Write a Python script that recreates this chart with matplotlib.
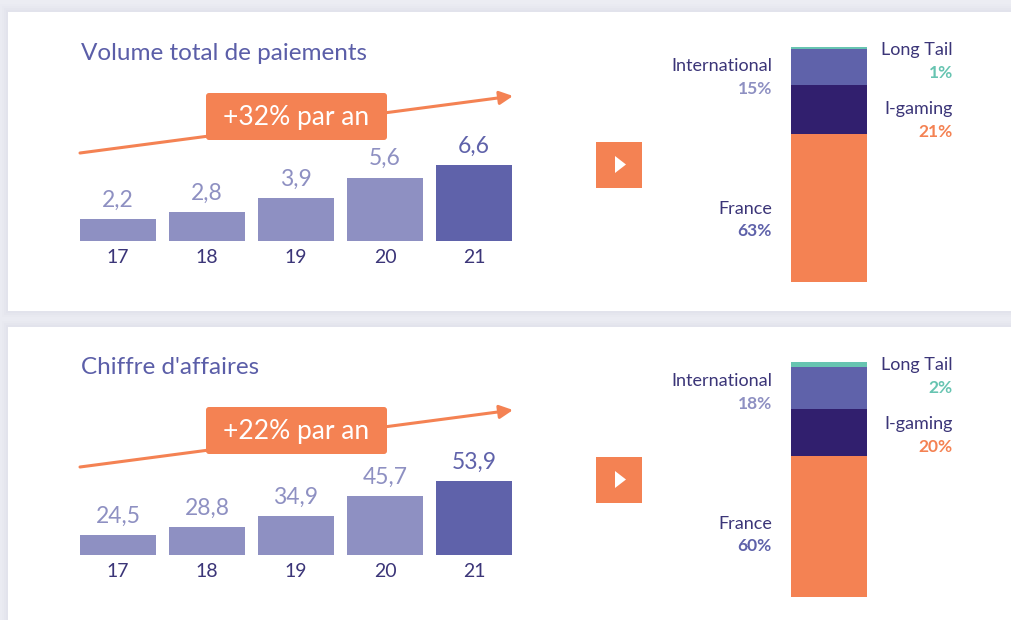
import matplotlib
matplotlib.use("Agg")
import matplotlib.pyplot as plt
from matplotlib.patches import Rectangle, FancyBboxPatch, Polygon

plt.rcParams["font.family"] = ["Lato", "DejaVu Sans"]

W, H = 1012, 620

# ---- data ----
years = ["17", "18", "19", "20", "21"]

volume_title = "Volume total de paiements"
volume_values = [2.2, 2.8, 3.9, 5.6, 6.6]
volume_growth = "+32% par an"

ca_title = "Chiffre d'affaires"
ca_values = [24.5, 28.8, 34.9, 45.7, 53.9]
ca_growth = "+22% par an"

segments = ["France", "I-gaming", "International", "Long Tail"]
volume_split = [63, 21, 15, 1]
ca_split = [60, 20, 18, 2]

# ---- colours ----
BG = "#ecedf3"
ORANGE = "#f48253"
LIGHT = "#8e90c2"
MID = "#5f62aa"
NAVY = "#311f6e"
TEAL = "#67c4b1"
DARK_TXT = "#3b3578"
TITLE = "#5b5ea8"

seg_colors = [ORANGE, NAVY, MID, TEAL]
pct_colors = [MID, ORANGE, LIGHT, TEAL]
# label side and vertical place (axes fraction) for name / percentage
seg_side = ["left", "right", "left", "right"]
seg_name_y = [0.311, 0.736, 0.919, 0.987]
seg_pct_y = [0.217, 0.638, 0.821, 0.889]


fig = plt.figure(figsize=(W / 100, H / 100), dpi=100)
fig.patch.set_facecolor(BG)

bg = fig.add_axes([0, 0, 1, 1])
bg.set_xlim(0, W)
bg.set_ylim(H, 0)
bg.axis("off")
bg.set_zorder(0)


def px_axes(x, y, w, h):
    ax = fig.add_axes([x / W, 1 - (y + h) / H, w / W, h / H])
    ax.patch.set_alpha(0)
    ax.set_zorder(2)
    return ax


def card(y0, y1):
    # soft shadow then the white card
    for i, a in enumerate([0.02, 0.025, 0.03, 0.035]):
        d = 8 - 2 * i
        bg.add_patch(Rectangle((8 - d, y0 - d), W + 20, (y1 - y0) + 2 * d,
                               facecolor="#9a9cc0", edgecolor="none", alpha=a))
    bg.add_patch(Rectangle((8, y0), W + 20, y1 - y0, facecolor="white",
                           edgecolor="none"))


def bar_panel(top, title, values, growth, ymin, yscale):
    bg.text(81, top + 41, title, color=TITLE, fontsize=17.5,
            va="center", ha="left")

    # growth arrow and label box
    bg.annotate("", xy=(513, top + 84), xytext=(80, top + 141),
                arrowprops=dict(arrowstyle="-|>,head_length=1.0,head_width=0.5",
                                mutation_scale=8, color=ORANGE, lw=2.2,
                                shrinkA=0, shrinkB=0))
    bg.add_patch(FancyBboxPatch((206, top + 81), 181, 47,
                                boxstyle="round,pad=0,rounding_size=3",
                                facecolor=ORANGE, edgecolor="none", zorder=3))
    bg.text(296.5, top + 105, growth, color="white", fontsize=19,
            ha="center", va="center", zorder=4)

    ax = px_axes(80, top + 129, 432, 100)
    x = range(len(values))
    colors = [LIGHT] * (len(values) - 1) + [MID]
    ax.bar(x, values, width=0.854, color=colors)
    ax.set_xlim(-0.427, len(values) - 1 + 0.427)
    ax.set_ylim(ymin, ymin + 100 / yscale)
    for i, v in enumerate(values):
        ax.annotate(f"{v:.1f}".replace(".", ","), (i, v), xytext=(0, 6),
                    textcoords="offset points", ha="center", va="bottom",
                    fontsize=16.5, color=colors[i], annotation_clip=False)
    ax.set_xticks(list(x))
    ax.set_xticklabels(years, fontsize=14, color=DARK_TXT)
    ax.tick_params(axis="x", length=0, pad=6)
    ax.set_yticks([])
    for s in ax.spines.values():
        s.set_visible(False)


def split_panel(top, split, bar_top):
    # orange play button
    bg.add_patch(Rectangle((596, top + 130), 46, 46, facecolor=ORANGE,
                           edgecolor="none"))
    bg.add_patch(Polygon([(615, top + 144), (615, top + 161), (626, top + 152.5)],
                         closed=True, facecolor="white", edgecolor="none"))

    ax = px_axes(791, bar_top, 76, 235)
    bottom = 0
    for val, c in zip(split, seg_colors):
        ax.bar(0, val, bottom=bottom, width=1, color=c)
        bottom += val
    ax.set_xlim(-0.5, 0.5)
    ax.set_ylim(0, sum(split))
    ax.axis("off")

    for name, val, pc, side, ny, py in zip(segments, split, pct_colors,
                                            seg_side, seg_name_y, seg_pct_y):
        if side == "left":
            tx = -0.25
        else:
            tx = 2.13
        ax.text(tx, ny, name, transform=ax.transAxes, ha="right", va="center",
                fontsize=13, color=DARK_TXT)
        ax.text(tx, py, f"{val}%", transform=ax.transAxes, ha="right",
                va="center", fontsize=12.5, fontweight="bold", color=pc)


card(12, 311)
card(327, H + 20)

bar_panel(12, volume_title, volume_values, volume_growth, 0.4, 12.2)
split_panel(12, volume_split, 47)

bar_panel(326, ca_title, ca_values, ca_growth, 13.8, 1.837)
split_panel(327, ca_split, 362)

fig.savefig("out.png", dpi=100, facecolor=fig.get_facecolor())
